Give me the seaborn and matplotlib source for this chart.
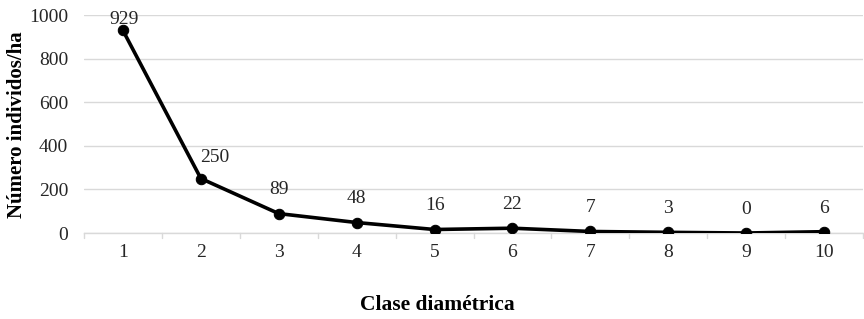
import matplotlib
matplotlib.use("Agg")
import matplotlib.pyplot as plt
import seaborn as sns
import pandas as pd

categories = [1, 2, 3, 4, 5, 6, 7, 8, 9, 10]
values = [929, 250, 89, 48, 16, 22, 7, 3, 0, 6]
labels = ["929", "250", "89", "48", "16", "22", "7", "3", "0", "6"]
yticks = [0, 200, 400, 600, 800, 1000]

sns.set_theme(style="white")
plt.rcParams['font.family'] = ['Liberation Serif', 'DejaVu Serif']

df = pd.DataFrame({"clase": categories, "n": values})

fig = plt.figure(figsize=(8.64, 3.19), dpi=100)
ax = fig.add_axes([84/864, 1-233/319, (863-84)/864, (233-15)/319])

sns.lineplot(data=df, x="clase", y="n", ax=ax, color="black", linewidth=2.6,
             marker="o", markersize=7.5, markeredgecolor="black", zorder=3)

ax.set_xlim(0.5, 10.5)
ax.set_ylim(0, 1000)
ax.set_yticks(yticks)
ax.set_xticks(categories)
ax.set_xticklabels([str(c) for c in categories])
ax.tick_params(axis='x', length=0, pad=8, labelsize=14)
ax.tick_params(axis='y', length=0, pad=11.5, labelsize=14)
for t in ax.get_xticklabels() + ax.get_yticklabels():
    t.set_color("#262626")

ax.grid(axis='y', color="#d9d9d9", linewidth=1)
ax.grid(axis='x', visible=False)
for s in ["top", "right", "left"]:
    ax.spines[s].set_visible(False)
ax.spines["bottom"].set_color("#d9d9d9")
ax.spines["bottom"].set_linewidth(1)

# category boundary ticks
for b in [1.5 + i for i in range(9)] + [0.5, 10.5]:
    ax.plot([b, b], [0, -0.022], transform=ax.get_xaxis_transform(),
            color="#d9d9d9", linewidth=1, clip_on=False)

for i, (c, v, lab) in enumerate(zip(categories, values, labels)):
    if i == 0:
        off = (1, 8)
    elif i == 1:
        off = (10, 15)
    else:
        off = (0, 17)
    ax.annotate(lab, (c, v), xytext=off, textcoords="offset points",
                ha="center", va="center", fontsize=14, color="#262626")

ax.set_xlabel("")
ax.set_ylabel("")
fig.text(437/864, 1-305/319, "Clase diamétrica", ha="center", va="center",
         fontsize=15.5, fontweight="bold", color="black")
fig.text(17/864, 1-125/319, "Número individos/ha", ha="center", va="center",
         rotation=90, fontsize=15, fontweight="bold", color="black")

fig.savefig("out.png", dpi=100)
